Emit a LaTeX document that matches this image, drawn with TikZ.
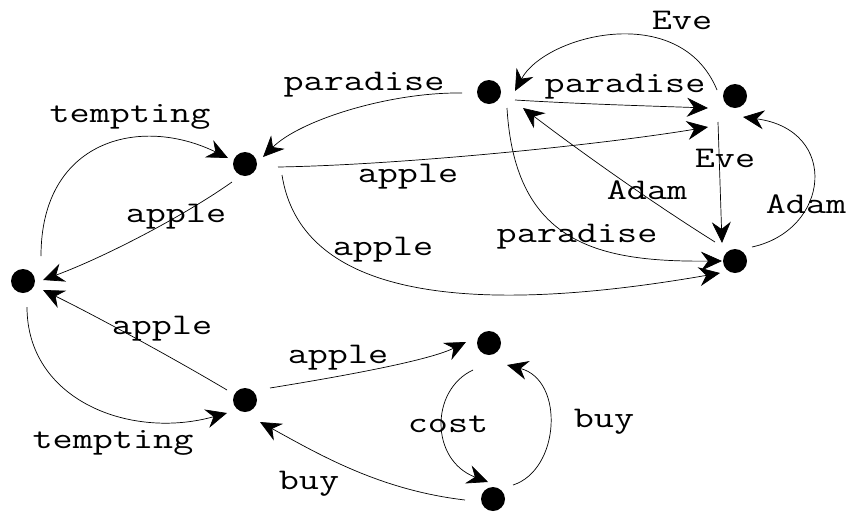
\documentclass[tikz,border=0pt]{standalone}
\usepackage{fontspec}
\usetikzlibrary{arrows.meta}
\newcommand{\lbltext}[1]{\scalebox{1.3}[1]{#1}}
\begin{document}
\begin{tikzpicture}[x=1pt,y=-1pt,
  dot/.style={circle,fill=black,minimum size=24pt,inner sep=0pt},
  edge/.style={line width=0.7pt,-{Stealth[length=21pt,width=19pt,inset=7pt]}},
  lbl/.style={font=\ttfamily\fontsize{30}{30}\selectfont,inner sep=0pt}]
\useasboundingbox (0,0) rectangle (846,512);
% states
\node[dot] (A) at (23,281) {};
\node[dot] (B) at (245,164) {};
\node[dot] (C) at (489,92) {};
\node[dot] (D) at (735,96) {};
\node[dot] (E) at (735,261) {};
\node[dot] (F) at (245,400) {};
\node[dot] (G) at (489,343) {};
\node[dot] (H) at (493,499) {};
% transitions
\draw[edge] ([shift={(18,-25)}]A.center) .. controls (41,140) and (140,115) .. ([shift={(-17,-6)}]B.center);
\draw[edge] ([shift={(-13,18)}]B.center) .. controls (190,212) and (110,255) .. ([shift={(20,-1)}]A.center);
\draw[edge] ([shift={(-27,1)}]C.center) .. controls (390,92) and (300,120) .. ([shift={(18,-7)}]B.center);
\draw[edge] ([shift={(33,3)}]B.center) .. controls (400,165) and (600,145) .. ([shift={(-27,31)}]D.center);
\draw[edge] ([shift={(37,11)}]B.center) .. controls (300,290) and (450,320) .. ([shift={(-15,12)}]E.center);
\draw[edge] ([shift={(26,8)}]C.center) .. controls (580,104) and (650,106) .. ([shift={(-27,12)}]D.center);
\draw[edge] ([shift={(-18,-6)}]D.center) .. controls (680,0) and (545,35) .. ([shift={(26,-1)}]C.center);
\draw[edge] ([shift={(-17,26)}]D.center) -- ([shift={(-13,-18)}]E.center);
\draw[edge] ([shift={(-20,-19)}]E.center) .. controls (640,195) and (565,140) .. ([shift={(34,16)}]C.center);
\draw[edge] ([shift={(17,-14)}]E.center) .. controls (830,230) and (840,130) .. ([shift={(8,21)}]D.center);
\draw[edge] ([shift={(18,16)}]C.center) .. controls (515,245) and (600,262) .. ([shift={(-13,0)}]E.center);
\draw[edge] ([shift={(4,26)}]A.center) .. controls (27,400) and (130,440) .. ([shift={(-18,13)}]F.center);
\draw[edge] ([shift={(-18,-10)}]F.center) .. controls (180,362) and (100,318) .. ([shift={(20,9)}]A.center);
\draw[edge] ([shift={(25,-12)}]F.center) .. controls (350,375) and (430,360) .. ([shift={(-23,-1)}]G.center);
\draw[edge] ([shift={(-16,27)}]G.center) .. controls (430,390) and (430,460) .. ([shift={(-5,-17)}]H.center);
\draw[edge] ([shift={(20,-14)}]H.center) .. controls (560,470) and (565,380) .. ([shift={(18,22)}]G.center);
\draw[edge] ([shift={(-28,1)}]H.center) .. controls (380,490) and (320,455) .. ([shift={(15,22)}]F.center);
% labels
\node[lbl] (l1) at (130,117) {\lbltext{tempting}};
\node[lbl] (l2) at (176,217) {\lbltext{apple}};
\node[lbl] (l3) at (364,85) {\lbltext{paradise}};
\node[lbl] (l4) at (408,177) {\lbltext{apple}};
\node[lbl] (l5) at (383,250) {\lbltext{apple}};
\node[lbl] (l6) at (625,87) {\lbltext{paradise}};
\node[lbl] (l7) at (682,20) {\lbltext{Eve}};
\node[lbl] (l8) at (725,158) {\lbltext{Eve}};
\node[lbl] (l9) at (647,190) {\lbltext{Adam}};
\node[lbl] (l10) at (806,204) {\lbltext{Adam}};
\node[lbl] (l11) at (577,237) {\lbltext{paradise}};
\node[lbl] (l12) at (113,443) {\lbltext{tempting}};
\node[lbl] (l13) at (162,329) {\lbltext{apple}};
\node[lbl] (l14) at (338,358) {\lbltext{apple}};
\node[lbl] (l15) at (448,424) {\lbltext{cost}};
\node[lbl] (l16) at (604,422) {\lbltext{buy}};
\node[lbl] (l17) at (309,484) {\lbltext{buy}};
\end{tikzpicture}
\end{document}
